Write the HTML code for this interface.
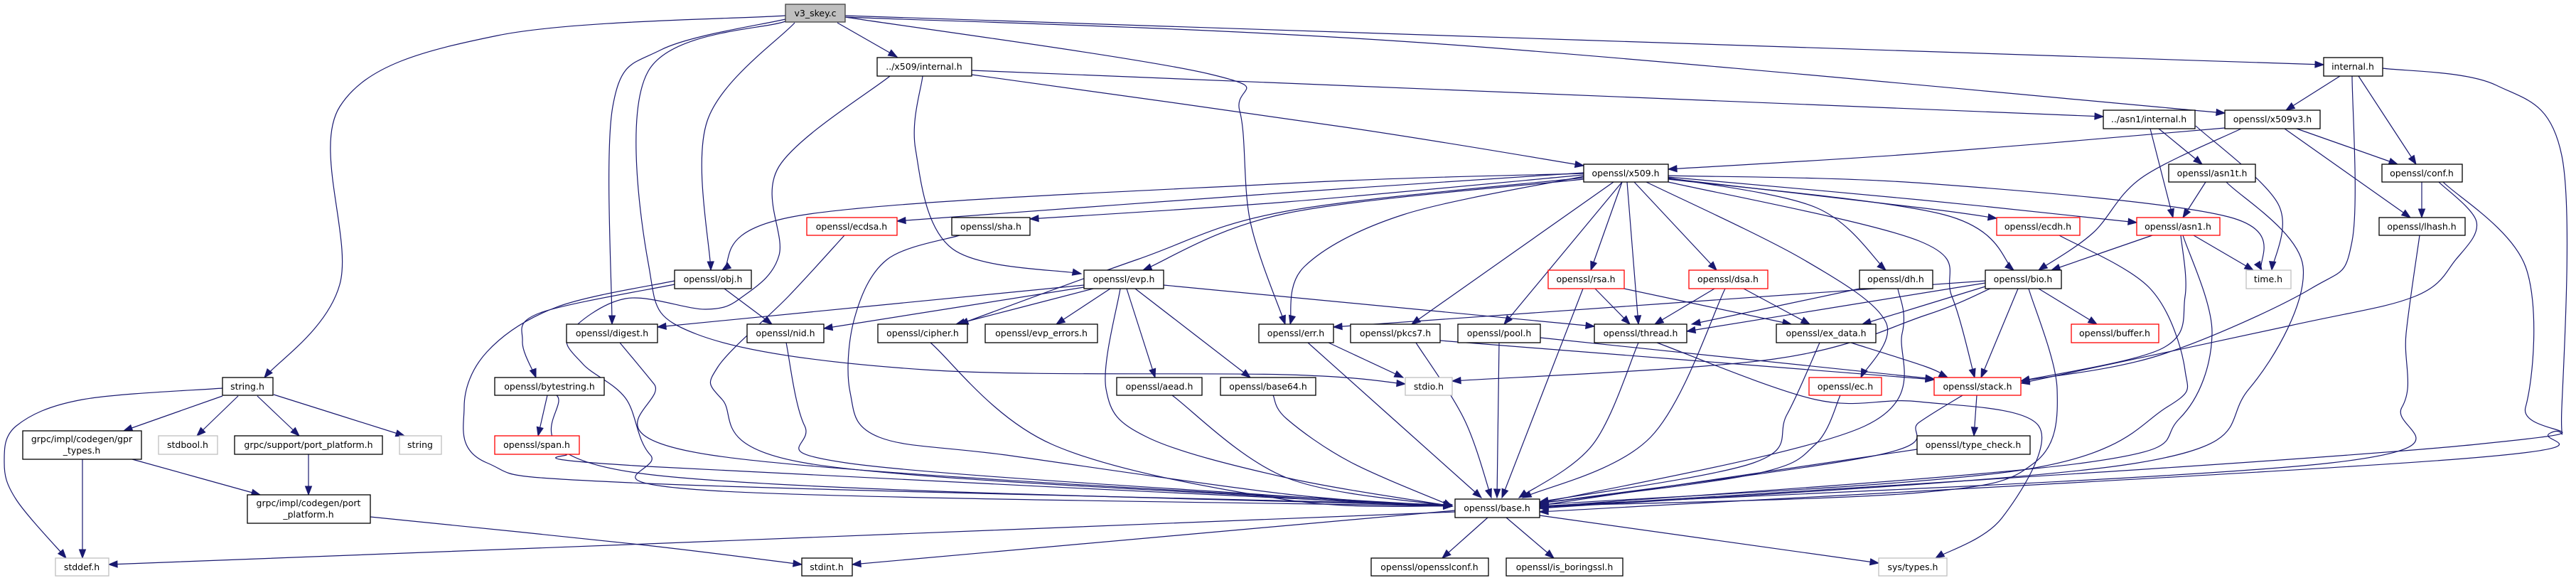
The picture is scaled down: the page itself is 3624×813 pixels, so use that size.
<!DOCTYPE html>
<html><head><meta charset="utf-8"><style>
html,body{margin:0;padding:0;background:#fff;width:3624px;height:813px;overflow:hidden}
svg{display:block}
text{font-family:"DejaVu Sans","Liberation Sans",sans-serif;font-size:12.5px;fill:#000;text-anchor:middle}
</style></head><body>
<svg id="g" width="3624" height="813" viewBox="0 0 3624 813" xmlns="http://www.w3.org/2000/svg">
<g id="edges" fill="none" stroke="#191970" stroke-width="1.2"></g>
<g id="heads" fill="#191970" stroke="#191970"></g>
<g id="nodes" stroke-width="1.3">
<rect x="1105" y="6" width="84" height="25" fill="#bfbfbf" stroke="#404040"/><text x="1147" y="23">v3_skey.c</text>
<rect x="1234" y="81" width="133" height="26" fill="#fff" stroke="#000"/><text x="1300" y="98">../x509/internal.h</text>
<rect x="3269" y="81" width="83" height="26" fill="#fff" stroke="#000"/><text x="3310" y="98">internal.h</text>
<rect x="2959" y="155" width="129" height="26" fill="#fff" stroke="#000"/><text x="3023" y="172">../asn1/internal.h</text>
<rect x="3130" y="155" width="134" height="26" fill="#fff" stroke="#000"/><text x="3197" y="172">openssl/x509v3.h</text>
<rect x="2228" y="231" width="119" height="25" fill="#fff" stroke="#000"/><text x="2287" y="248">openssl/x509.h</text>
<rect x="3051" y="231" width="122" height="25" fill="#fff" stroke="#000"/><text x="3112" y="248">openssl/asn1t.h</text>
<rect x="3351" y="231" width="113" height="25" fill="#fff" stroke="#000"/><text x="3407" y="248">openssl/conf.h</text>
<rect x="1135" y="306" width="127" height="25" fill="#fff" stroke="#ff0000"/><text x="1198" y="323">openssl/ecdsa.h</text>
<rect x="1339" y="306" width="110" height="25" fill="#fff" stroke="#000"/><text x="1394" y="323">openssl/sha.h</text>
<rect x="2809" y="306" width="117" height="25" fill="#fff" stroke="#ff0000"/><text x="2867" y="323">openssl/ecdh.h</text>
<rect x="3006" y="306" width="117" height="25" fill="#fff" stroke="#ff0000"/><text x="3064" y="323">openssl/asn1.h</text>
<rect x="3347" y="306" width="121" height="25" fill="#fff" stroke="#000"/><text x="3407" y="323">openssl/lhash.h</text>
<rect x="949" y="380" width="108" height="26" fill="#fff" stroke="#000"/><text x="1003" y="397">openssl/obj.h</text>
<rect x="1525" y="380" width="112" height="26" fill="#fff" stroke="#000"/><text x="1581" y="397">openssl/evp.h</text>
<rect x="2178" y="380" width="107" height="26" fill="#fff" stroke="#ff0000"/><text x="2231" y="397">openssl/rsa.h</text>
<rect x="2376" y="380" width="111" height="26" fill="#fff" stroke="#ff0000"/><text x="2431" y="397">openssl/dsa.h</text>
<rect x="2616" y="380" width="103" height="26" fill="#fff" stroke="#000"/><text x="2667" y="397">openssl/dh.h</text>
<rect x="2793" y="380" width="107" height="26" fill="#fff" stroke="#000"/><text x="2846" y="397">openssl/bio.h</text>
<rect x="3160" y="380" width="63" height="26" fill="#fff" stroke="#bfbfbf"/><text x="3191" y="397">time.h</text>
<rect x="797" y="456" width="128" height="26" fill="#fff" stroke="#000"/><text x="861" y="473">openssl/digest.h</text>
<rect x="1051" y="456" width="108" height="26" fill="#fff" stroke="#000"/><text x="1105" y="473">openssl/nid.h</text>
<rect x="1235" y="456" width="126" height="26" fill="#fff" stroke="#000"/><text x="1298" y="473">openssl/cipher.h</text>
<rect x="1386" y="456" width="158" height="26" fill="#fff" stroke="#000"/><text x="1465" y="473">openssl/evp_errors.h</text>
<rect x="1771" y="456" width="105" height="26" fill="#fff" stroke="#000"/><text x="1823" y="473">openssl/err.h</text>
<rect x="1900" y="456" width="126" height="26" fill="#fff" stroke="#000"/><text x="1963" y="473">openssl/pkcs7.h</text>
<rect x="2051" y="456" width="116" height="26" fill="#fff" stroke="#000"/><text x="2109" y="473">openssl/pool.h</text>
<rect x="2243" y="456" width="130" height="26" fill="#fff" stroke="#000"/><text x="2308" y="473">openssl/thread.h</text>
<rect x="2499" y="456" width="140" height="26" fill="#fff" stroke="#000"/><text x="2569" y="473">openssl/ex_data.h</text>
<rect x="2914" y="456" width="123" height="26" fill="#fff" stroke="#ff0000"/><text x="2975" y="473">openssl/buffer.h</text>
<rect x="313" y="531" width="71" height="25" fill="#fff" stroke="#000"/><text x="348" y="548">string.h</text>
<rect x="696" y="531" width="154" height="25" fill="#fff" stroke="#000"/><text x="773" y="548">openssl/bytestring.h</text>
<rect x="1571" y="531" width="120" height="25" fill="#fff" stroke="#000"/><text x="1631" y="548">openssl/aead.h</text>
<rect x="1717" y="531" width="134" height="25" fill="#fff" stroke="#000"/><text x="1784" y="548">openssl/base64.h</text>
<rect x="1977" y="531" width="66" height="25" fill="#fff" stroke="#bfbfbf"/><text x="2010" y="548">stdio.h</text>
<rect x="2545" y="531" width="102" height="25" fill="#fff" stroke="#ff0000"/><text x="2596" y="548">openssl/ec.h</text>
<rect x="2721" y="531" width="122" height="25" fill="#fff" stroke="#ff0000"/><text x="2782" y="548">openssl/stack.h</text>
<rect x="32" y="606" width="167" height="40" fill="#fff" stroke="#000"/><text x="115" y="622">grpc/impl/codegen/gpr</text><text x="115" y="638">_types.h</text>
<rect x="223" y="613" width="83" height="26" fill="#fff" stroke="#bfbfbf"/><text x="264" y="630">stdbool.h</text>
<rect x="330" y="613" width="208" height="26" fill="#fff" stroke="#000"/><text x="434" y="630">grpc/support/port_platform.h</text>
<rect x="562" y="613" width="59" height="26" fill="#fff" stroke="#bfbfbf"/><text x="591" y="630">string</text>
<rect x="696" y="613" width="119" height="26" fill="#fff" stroke="#ff0000"/><text x="755" y="630">openssl/span.h</text>
<rect x="2697" y="613" width="159" height="26" fill="#fff" stroke="#000"/><text x="2776" y="630">openssl/type_check.h</text>
<rect x="348" y="696" width="173" height="40" fill="#fff" stroke="#000"/><text x="434" y="712">grpc/impl/codegen/port</text><text x="434" y="728">_platform.h</text>
<rect x="2047" y="702" width="119" height="26" fill="#fff" stroke="#000"/><text x="2106" y="719">openssl/base.h</text>
<rect x="78" y="785" width="75" height="25" fill="#fff" stroke="#bfbfbf"/><text x="115" y="802">stddef.h</text>
<rect x="1128" y="785" width="71" height="25" fill="#fff" stroke="#000"/><text x="1163" y="802">stdint.h</text>
<rect x="1929" y="785" width="165" height="25" fill="#fff" stroke="#000"/><text x="2011" y="802">openssl/opensslconf.h</text>
<rect x="2119" y="785" width="164" height="25" fill="#fff" stroke="#000"/><text x="2201" y="802">openssl/is_boringssl.h</text>
<rect x="2643" y="785" width="96" height="25" fill="#fff" stroke="#bfbfbf"/><text x="2691" y="802">sys/types.h</text>
</g>
</svg>
<script>
var E=[
[[1105,22],[700,50],[478,150],[478,400],[372,531]],
[[1178,32],[1262,80]],
[[1118,32],[995,170],[1000,380]],
[[1105,27],[930,70],[862,150],[861,456]],
[[1105,30],[912,100],[912,370],[980,470],[1300,520],[1810,527],[1977,540]],
[[1189,24],[1701,104],[1744,156],[1759,312],[1808,456]],
[[1189,24],[2000,60],[3130,159]],
[[1189,22],[3269,91]],
[[1367,99],[2959,164]],
[[1367,105],[1900,180],[2228,233]],
[[1298,107],[1288,210],[1340,350],[1521,385]],
[[1252,107],[1096,234],[1096,359],[1045,417],[993,435],[880,420],[800,470],[820,512],[880,560],[915,640],[1000,690],[2043,712]],
[[949,395],[783,432],[685,495],[653,573],[685,651],[910,680],[2043,710]],
[[949,400],[760,440],[735,480],[754,531]],
[[1019,406],[1086,456]],
[[1525,401],[925,460]],
[[1525,404],[1159,462]],
[[1538,406],[1345,456]],
[[1562,406],[1486,456]],
[[1585,406],[1625,531]],
[[1597,406],[1759,531]],
[[1576,406],[1556,547],[1614,615],[1810,672],[2043,712]],
[[1637,401],[2243,459]],
[[2228,250],[1810,297],[1600,365],[1350,456]],
[[2228,244],[1810,258],[1132,302],[1016,380]],
[[2228,243],[1810,271],[1262,311]],
[[2228,246],[1810,284],[1449,308]],
[[2228,252],[1810,300],[1608,380]],
[[2228,248],[1974,302],[1835,375],[1815,456]],
[[2270,256],[1986,456]],
[[2282,256],[2116,456]],
[[2282,256],[2238,380]],
[[2289,256],[2305,456]],
[[2299,256],[2415,380]],
[[2316,256],[2537,365],[2653,453],[2618,531]],
[[2347,250],[2555,292],[2653,380]],
[[2347,247],[2710,258],[3135,305],[3182,380]],
[[2347,249],[2700,281],[3006,313]],
[[2347,251],[2700,292],[2809,307]],
[[2347,252],[2735,302],[2833,380]],
[[2347,256],[2700,339],[2746,417],[2778,531]],
[[2227,406],[2113,700]],
[[2244,406],[2293,456]],
[[2285,406],[2520,456]],
[[2412,406],[2328,456]],
[[2453,406],[2546,456]],
[[2427,406],[2322,615],[2142,700]],
[[2616,406],[2380,456]],
[[2670,406],[2676,469],[2624,599],[2166,708]],
[[2793,398],[2373,466]],
[[2793,395],[1876,460]],
[[2793,403],[2620,456]],
[[2800,406],[2710,443],[2496,505],[2043,536]],
[[2839,406],[2787,531]],
[[2868,406],[2950,456]],
[[2854,406],[2894,547],[2862,651],[2700,693],[2166,712]],
[[3028,331],[2886,380]],
[[3086,331],[3170,380]],
[[3068,331],[3074,417],[3042,490],[2843,536]],
[[3071,331],[3112,469],[3066,589],[2932,651],[2166,713]],
[[3103,256],[3071,306]],
[[3132,256],[3240,375],[3164,547],[3008,651],[2166,715]],
[[3025,181],[3057,306]],
[[3037,181],[3098,231]],
[[3089,177],[3205,287],[3196,380]],
[[3130,180],[2700,216],[2347,238]],
[[3153,181],[3013,250],[2944,328],[2868,380]],
[[3231,181],[3373,231]],
[[3214,181],[3391,306]],
[[3292,107],[3216,155]],
[[3318,107],[3399,231]],
[[3309,107],[3309,339],[3251,406],[3037,500],[2843,536]],
[[3352,96],[3512,120],[3604,219],[3604,573],[3588,609],[3454,646],[2166,720]],
[[3407,256],[3407,306]],
[[3431,256],[3484,312],[3455,365],[3397,417],[3222,458],[2843,539]],
[[3437,256],[3553,375],[3553,573],[3484,625],[2166,714]],
[[3404,331],[3385,469],[3379,573],[3280,651],[2166,712]],
[[2897,331],[3025,406],[3074,521],[3048,573],[2845,661],[2166,710]],
[[2781,556],[2777,613]],
[[2761,556],[2700,594],[2642,640],[2166,708]],
[[2697,632],[2166,711]],
[[2331,482],[2554,562],[2700,565],[2868,599],[2816,729],[2723,785]],
[[2305,482],[2241,625],[2137,700]],
[[2026,479],[2721,534]],
[[1992,482],[2060,590],[2098,700]],
[[2167,475],[2721,533]],
[[2109,482],[2106,700]],
[[2604,482],[2710,516],[2740,531]],
[[2560,482],[2514,583],[2467,651],[2166,706]],
[[2589,556],[2554,625],[2467,667],[2166,708]],
[[1840,482],[2084,700]],
[[1869,482],[1974,531]],
[[2093,728],[2029,785]],
[[2119,728],[2186,785]],
[[2166,725],[2643,792]],
[[2047,720],[910,765],[153,794]],
[[2047,718],[1199,794]],
[[521,727],[900,766],[1128,794]],
[[313,546],[116,562],[23,599],[6,651],[23,703],[93,785]],
[[313,557],[174,606]],
[[335,557],[277,613]],
[[362,557],[421,613]],
[[385,555],[569,613]],
[[116,646],[116,785]],
[[186,646],[366,696]],
[[434,639],[434,696]],
[[770,556],[757,613]],
[[783,556],[910,667],[2043,712]],
[[795,639],[910,656],[2043,712]],
[[872,482],[920,540],[1000,640],[2043,712]],
[[1106,482],[1132,599],[1190,651],[1810,698],[2043,712]],
[[1309,482],[1480,625],[1810,703],[2043,712]],
[[1350,331],[1248,365],[1202,448],[1196,552],[1237,615],[1422,641],[1810,695],[2043,712]],
[[1188,331],[1109,417],[1010,516],[1016,562],[1132,651],[1810,700],[2043,712]],
[[1649,556],[1810,672],[2043,712]],
[[1791,556],[1810,589],[1900,650],[2043,712]]
];
var ns="http://www.w3.org/2000/svg",eg=document.getElementById("edges"),hg=document.getElementById("heads");
E.forEach(function(P){
 var n=P.length,d="M"+P[0][0]+","+P[0][1],lc;
 for(var i=0;i<n-1;i++){
  var p0=P[i-1]||P[i],p1=P[i],p2=P[i+1],p3=P[i+2]||P[i+1];
  var c1=[p1[0]+(p2[0]-p0[0])/6,p1[1]+(p2[1]-p0[1])/6];
  var c2=[p2[0]-(p3[0]-p1[0])/6,p2[1]-(p3[1]-p1[1])/6];
  d+=" C"+c1[0]+","+c1[1]+" "+c2[0]+","+c2[1]+" "+p2[0]+","+p2[1];lc=c2;
 }
 var e=P[n-1],dx=e[0]-lc[0],dy=e[1]-lc[1],L=Math.hypot(dx,dy)||1;dx/=L;dy/=L;
 var path=document.createElementNS(ns,"path");path.setAttribute("d",d);eg.appendChild(path);
 var bx=e[0]-dx*12,by=e[1]-dy*12,px=-dy*4.5,py=dx*4.5;
 var pg=document.createElementNS(ns,"polygon");
 pg.setAttribute("points",e[0]+","+e[1]+" "+(bx+px)+","+(by+py)+" "+(bx-px)+","+(by-py));
 hg.appendChild(pg);
});
</script>
</body></html>
